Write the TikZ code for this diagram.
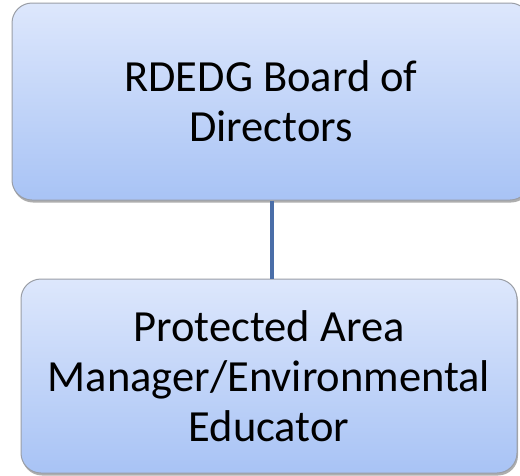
\documentclass[tikz,border=0pt]{standalone}
\usepackage{fontspec}
\setmainfont{Carlito}
\usetikzlibrary{shadows}
\definecolor{boxtop}{HTML}{DDE7FC}
\definecolor{boxbot}{HTML}{A8C3F5}
\definecolor{boxline}{HTML}{9A9EA6}
\definecolor{linkcol}{HTML}{4A6EA8}
\tikzset{
  orgbox/.style={rectangle, rounded corners=20pt, draw=boxline, line width=1pt,
    top color=boxtop, bottom color=boxbot, align=center,
    font=\fontsize{44.5}{50}\selectfont, inner sep=0pt,
    drop shadow={shadow xshift=1pt, shadow yshift=-2.5pt, opacity=0.45, fill=black!70}},
  link/.style={draw=linkcol, line width=4pt}
}
\begin{document}
\begin{tikzpicture}[x=1pt,y=1pt]
\useasboundingbox (0,0) rectangle (520,-475);
\fill[white] (0,0) rectangle (520,-475);
\node[orgbox, minimum width=518pt, minimum height=197pt] (board) at (271,-101.5) {RDEDG Board of\\Directors};
\node[orgbox, minimum width=496pt, minimum height=194pt] (pam) at (269,-376) {Protected Area\\Manager/Environmental\\Educator};
\draw[link] (board.south -| 272,0) -- (pam.north -| 272,0);
\end{tikzpicture}
\end{document}
